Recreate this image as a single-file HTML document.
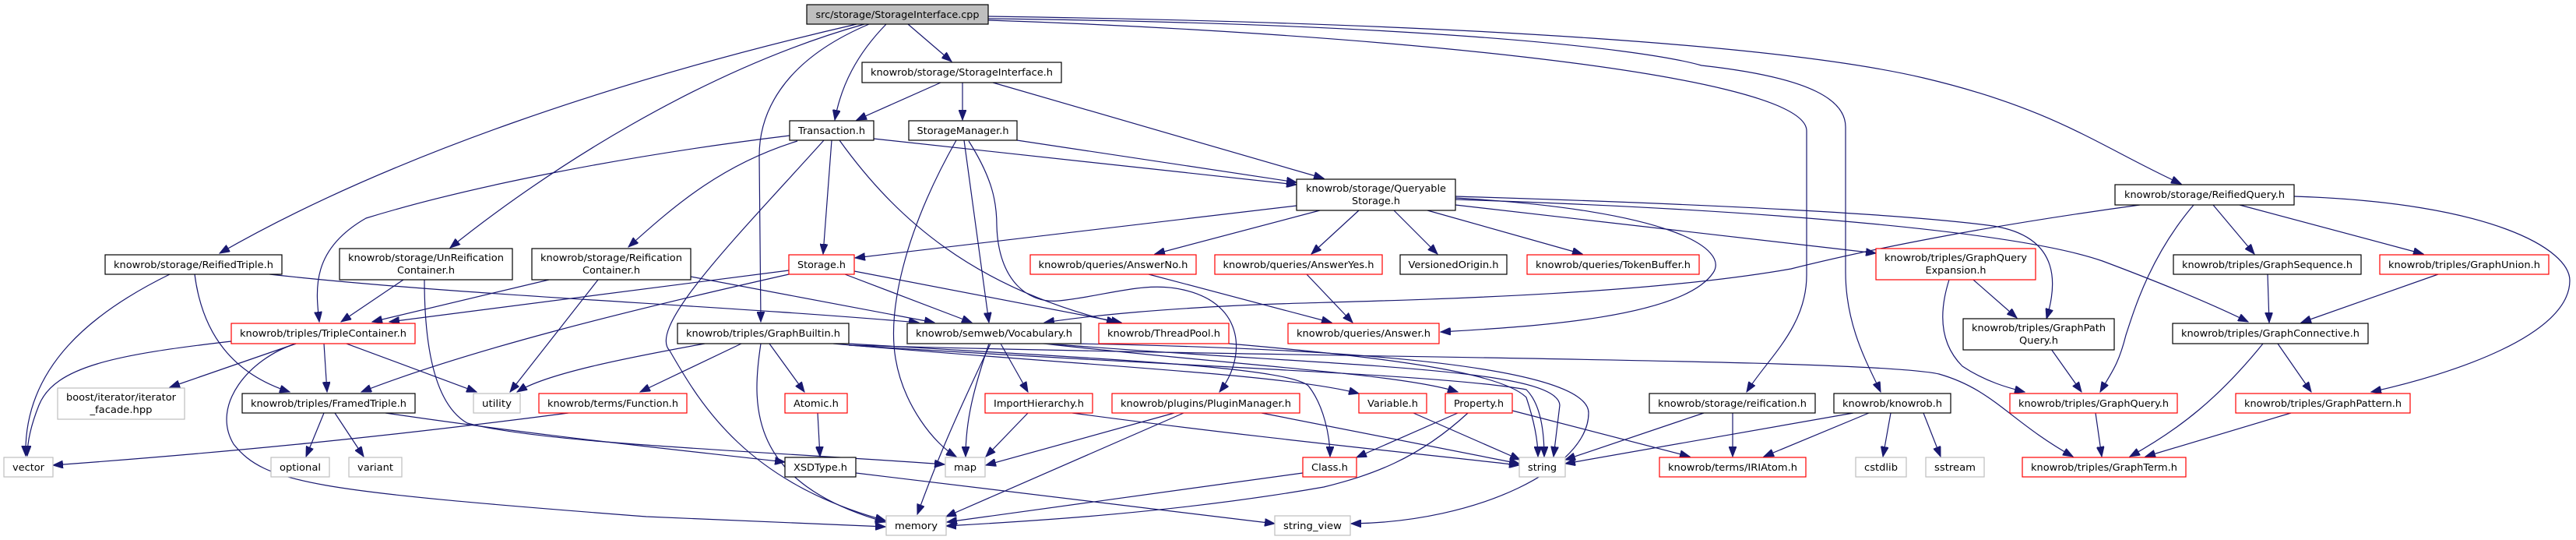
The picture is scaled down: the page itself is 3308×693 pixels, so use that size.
<!DOCTYPE html>
<html><head><meta charset="utf-8"><style>
html,body{margin:0;padding:0;background:#fff;}
svg{display:block;}
text{font-family:"DejaVu Sans","Liberation Sans",sans-serif;font-size:12px;fill:#000;}
.e{fill:none;stroke:#191970;stroke-width:1.2;marker-end:url(#a);}
.b{fill:#fff;stroke:#000;stroke-width:1.2;}
.r{fill:#fff;stroke:#ff0000;stroke-width:1.2;}
.g{fill:#fff;stroke:#bfbfbf;stroke-width:1.2;}
</style></head><body>
<svg width="3308" height="693" viewBox="0 0 3308 693" xmlns="http://www.w3.org/2000/svg">
<defs><marker id="a" markerUnits="userSpaceOnUse" markerWidth="14" markerHeight="10" refX="13" refY="5" orient="auto"><polygon points="0,0 13,5 0,10" fill="#191970" stroke="#191970"/></marker></defs>
<!-- edges -->
<path class="e" d="M1100 31 C800 100 500 200 282 325"/>
<path class="e" d="M1110 31 C900 90 700 220 578 318"/>
<path class="e" d="M1138 31 C1100 70 1080 110 1072 154"/>
<path class="e" d="M1166 31 L1222 79"/>
<path class="e" d="M1116 31 C1000 80 975 150 975 200 L977 413"/>
<path class="e" d="M1269 21 C1900 30 2300 60 2470 100 S2700 190 2801 236"/>
<path class="e" d="M1269 26 C1700 40 2320 90 2320 168 L2320 353 C2320 420 2270 460 2243 503"/>
<path class="e" d="M1269 24 C1800 30 2100 60 2185 84 C2330 100 2370 130 2370 163 L2370 349 C2370 420 2400 470 2415 503"/>
<path class="e" d="M1208 106 L1100 154"/>
<path class="e" d="M1236 106 L1236 154"/>
<path class="e" d="M1275 106 L1700 229"/>
<path class="e" d="M1014 174 C800 200 600 240 470 280 C400 320 405 370 410 413"/>
<path class="e" d="M1024 181 C930 210 870 260 807 317"/>
<path class="e" d="M1058 180 C950 300 830 420 860 450 C900 520 960 620 1137 668"/>
<path class="e" d="M1068 180 L1057 326"/>
<path class="e" d="M1078 180 C1150 280 1250 370 1434 414"/>
<path class="e" d="M1122 178 L1665 237"/>
<path class="e" d="M1228 180 C1160 300 1140 400 1150 460 C1160 520 1200 570 1228 586"/>
<path class="e" d="M1238 180 L1270 414"/>
<path class="e" d="M1244 181 C1275 230 1280 260 1280 290 C1282 360 1320 390 1360 386 C1420 380 1470 360 1520 372 C1600 390 1600 460 1566 503"/>
<path class="e" d="M1306 180 L1665 234"/>
<path class="e" d="M1665 264 L1098 331"/>
<path class="e" d="M1695 270 L1483 326"/>
<path class="e" d="M1745 270 L1684 326"/>
<path class="e" d="M1790 270 L1846 326"/>
<path class="e" d="M1833 270 L2032 326"/>
<path class="e" d="M1869 254 C2150 270 2220 320 2200 350 C2160 410 1950 420 1850 426"/>
<path class="e" d="M1869 263 L2409 325"/>
<path class="e" d="M1869 252 C2200 262 2450 275 2560 290 C2650 305 2640 370 2628 409"/>
<path class="e" d="M1869 256 C2300 270 2600 300 2700 335 C2780 365 2840 390 2887 413"/>
<path class="e" d="M2748 263 C2550 290 2400 320 2300 345 C2100 380 1800 385 1640 390 C1500 395 1400 405 1341 414"/>
<path class="e" d="M2817 263 C2760 330 2740 400 2730 430 C2720 470 2710 480 2697 503"/>
<path class="e" d="M2842 263 L2895 326"/>
<path class="e" d="M2876 263 L3112 326"/>
<path class="e" d="M2946 252 C3200 260 3300 320 3300 360 C3300 430 3150 480 3045 503"/>
<path class="e" d="M2534 359 L2590 408"/>
<path class="e" d="M2503 359 C2490 400 2490 440 2520 470 C2550 490 2580 498 2600 503"/>
<path class="e" d="M2634 448 L2673 503"/>
<path class="e" d="M2912 352 L2914 414"/>
<path class="e" d="M3131 352 L2955 414"/>
<path class="e" d="M2906 441 C2850 510 2800 550 2735 586"/>
<path class="e" d="M2925 441 L2968 503"/>
<path class="e" d="M2691 530 L2699 586"/>
<path class="e" d="M2942 530 L2755 586"/>
<path class="e" d="M1475 352 L1710 414"/>
<path class="e" d="M1678 352 L1737 414"/>
<path class="e" d="M1013 347 L500 413"/>
<path class="e" d="M1013 352 C800 400 600 450 464 503"/>
<path class="e" d="M1085 352 L1248 414"/>
<path class="e" d="M1097 348 L1440 414"/>
<path class="e" d="M218 352 C120 400 30 470 33 585"/>
<path class="e" d="M250 352 C260 430 300 480 372 503"/>
<path class="e" d="M346 352 C600 380 900 390 1180 414"/>
<path class="e" d="M518 359 L438 413"/>
<path class="e" d="M545 359 C545 450 560 520 600 543 C700 570 1000 580 1213 596"/>
<path class="e" d="M495 530 C700 560 850 575 1008 593"/>
<path class="e" d="M705 359 L478 413"/>
<path class="e" d="M768 359 L655 503"/>
<path class="e" d="M887 355 L1200 414"/>
<path class="e" d="M297 438 C150 455 70 470 50 520 C38 550 35 570 35 585"/>
<path class="e" d="M380 441 L218 497"/>
<path class="e" d="M416 441 L420 503"/>
<path class="e" d="M445 441 L612 503"/>
<path class="e" d="M380 441 C320 460 270 520 300 570 C340 620 400 630 830 663 L1137 676"/>
<path class="e" d="M416 530 L393 586"/>
<path class="e" d="M430 530 L467 586"/>
<path class="e" d="M905 441 C800 460 700 480 664 503"/>
<path class="e" d="M952 441 L822 503"/>
<path class="e" d="M977 441 C965 520 960 620 1137 670"/>
<path class="e" d="M988 441 L1033 503"/>
<path class="e" d="M1070 441 C1400 470 1650 480 1745 505"/>
<path class="e" d="M1090 441 C1400 460 1650 470 1680 495 C1700 520 1708 560 1708 586"/>
<path class="e" d="M1090 443 C1500 470 1850 480 1960 500 C1980 520 1983 560 1983 586"/>
<path class="e" d="M1090 443 C1700 460 2400 460 2490 480 C2560 500 2580 540 2662 586"/>
<path class="e" d="M1272 441 C1220 550 1200 600 1178 660"/>
<path class="e" d="M1270 441 C1250 500 1240 540 1240 586"/>
<path class="e" d="M1285 441 L1320 503"/>
<path class="e" d="M1340 441 C1600 470 1800 480 1872 503"/>
<path class="e" d="M1345 441 C1700 470 2000 470 2003 520 L1995 586"/>
<path class="e" d="M1380 441 C1900 450 2040 490 2040 530 C2040 600 1900 670 1735 672"/>
<path class="e" d="M1320 530 L1266 586"/>
<path class="e" d="M1377 530 C1600 560 1800 580 1951 597"/>
<path class="e" d="M1508 530 L1266 597"/>
<path class="e" d="M1520 530 L1215 663"/>
<path class="e" d="M1620 530 L1951 595"/>
<path class="e" d="M1578 441 C1800 460 1930 480 1960 510 C1970 540 1975 565 1975 586"/>
<path class="e" d="M1050 530 L1053 586"/>
<path class="e" d="M1099 607 L1637 672"/>
<path class="e" d="M1815 530 L1952 590"/>
<path class="e" d="M1872 530 L1742 587"/>
<path class="e" d="M1885 530 C1820 590 1760 610 1700 625 C1500 660 1300 670 1215 675"/>
<path class="e" d="M1942 527 L2170 586"/>
<path class="e" d="M1673 607 L1216 670"/>
<path class="e" d="M2188 530 L2010 590"/>
<path class="e" d="M2225 530 L2225 586"/>
<path class="e" d="M2380 530 L2010 595"/>
<path class="e" d="M2400 530 L2265 586"/>
<path class="e" d="M2428 530 L2418 586"/>
<path class="e" d="M2470 530 L2492 586"/>
<path class="e" d="M730 530 C500 560 300 580 68 597"/>
<!-- nodes -->
<rect x="1036" y="6" width="233" height="25" fill="#bfbfbf" stroke="#000" stroke-width="1.2"/><text x="1152.5" y="23" text-anchor="middle" textLength="210" lengthAdjust="spacingAndGlyphs">src/storage/StorageInterface.cpp</text>
<rect class="b" x="1107" y="80" width="256" height="26"/><text x="1235" y="97" text-anchor="middle" textLength="234" lengthAdjust="spacingAndGlyphs">knowrob/storage/StorageInterface.h</text>
<rect class="b" x="1014" y="155" width="108" height="25"/><text x="1068" y="172" text-anchor="middle" textLength="86" lengthAdjust="spacingAndGlyphs">Transaction.h</text>
<rect class="b" x="1167" y="155" width="139" height="25"/><text x="1236.5" y="172" text-anchor="middle" textLength="118" lengthAdjust="spacingAndGlyphs">StorageManager.h</text>
<rect class="b" x="1665" y="230" width="204" height="40"/><text x="1767" y="246" text-anchor="middle" textLength="180" lengthAdjust="spacingAndGlyphs">knowrob/storage/Queryable</text><text x="1767" y="262" text-anchor="middle" textLength="62" lengthAdjust="spacingAndGlyphs">Storage.h</text>
<rect class="b" x="2716" y="237" width="230" height="26"/><text x="2831" y="254" text-anchor="middle" textLength="206" lengthAdjust="spacingAndGlyphs">knowrob/storage/ReifiedQuery.h</text>
<rect class="b" x="135" y="327" width="227" height="25"/><text x="248.5" y="344" text-anchor="middle" textLength="205" lengthAdjust="spacingAndGlyphs">knowrob/storage/ReifiedTriple.h</text>
<rect class="b" x="436" y="319" width="222" height="40"/><text x="547" y="335" text-anchor="middle" textLength="200" lengthAdjust="spacingAndGlyphs">knowrob/storage/UnReification</text><text x="547" y="351" text-anchor="middle" textLength="74" lengthAdjust="spacingAndGlyphs">Container.h</text>
<rect class="b" x="683" y="319" width="204" height="40"/><text x="785" y="335" text-anchor="middle" textLength="182" lengthAdjust="spacingAndGlyphs">knowrob/storage/Reification</text><text x="785" y="351" text-anchor="middle" textLength="74" lengthAdjust="spacingAndGlyphs">Container.h</text>
<rect class="r" x="1013" y="327" width="84" height="25"/><text x="1055" y="344" text-anchor="middle" textLength="62" lengthAdjust="spacingAndGlyphs">Storage.h</text>
<rect class="r" x="1323" y="327" width="213" height="25"/><text x="1429.5" y="344" text-anchor="middle" textLength="192" lengthAdjust="spacingAndGlyphs">knowrob/queries/AnswerNo.h</text>
<rect class="r" x="1560" y="327" width="215" height="25"/><text x="1667.5" y="344" text-anchor="middle" textLength="194" lengthAdjust="spacingAndGlyphs">knowrob/queries/AnswerYes.h</text>
<rect class="b" x="1798" y="327" width="137" height="25"/><text x="1866.5" y="344" text-anchor="middle" textLength="116" lengthAdjust="spacingAndGlyphs">VersionedOrigin.h</text>
<rect class="r" x="1961" y="327" width="221" height="25"/><text x="2071.5" y="344" text-anchor="middle" textLength="199" lengthAdjust="spacingAndGlyphs">knowrob/queries/TokenBuffer.h</text>
<rect class="r" x="2409" y="319" width="205" height="40"/><text x="2511.5" y="335" text-anchor="middle" textLength="183" lengthAdjust="spacingAndGlyphs">knowrob/triples/GraphQuery</text><text x="2511.5" y="351" text-anchor="middle" textLength="78" lengthAdjust="spacingAndGlyphs">Expansion.h</text>
<rect class="b" x="2791" y="327" width="241" height="25"/><text x="2911.5" y="344" text-anchor="middle" textLength="219" lengthAdjust="spacingAndGlyphs">knowrob/triples/GraphSequence.h</text>
<rect class="r" x="3056" y="327" width="217" height="25"/><text x="3164.5" y="344" text-anchor="middle" textLength="195" lengthAdjust="spacingAndGlyphs">knowrob/triples/GraphUnion.h</text>
<rect class="r" x="297" y="415" width="236" height="26"/><text x="415" y="432" text-anchor="middle" textLength="214" lengthAdjust="spacingAndGlyphs">knowrob/triples/TripleContainer.h</text>
<rect class="b" x="870" y="415" width="220" height="26"/><text x="980" y="432" text-anchor="middle" textLength="198" lengthAdjust="spacingAndGlyphs">knowrob/triples/GraphBuiltin.h</text>
<rect x="1165" y="415" width="223" height="26" fill="#fff" stroke="#404040" stroke-width="1.6"/><text x="1276.5" y="432" text-anchor="middle" textLength="201" lengthAdjust="spacingAndGlyphs">knowrob/semweb/Vocabulary.h</text>
<rect class="r" x="1411" y="415" width="167" height="26"/><text x="1494.5" y="432" text-anchor="middle" textLength="145" lengthAdjust="spacingAndGlyphs">knowrob/ThreadPool.h</text>
<rect class="r" x="1654" y="415" width="194" height="26"/><text x="1751" y="432" text-anchor="middle" textLength="172" lengthAdjust="spacingAndGlyphs">knowrob/queries/Answer.h</text>
<rect class="b" x="2521" y="409" width="194" height="40"/><text x="2618" y="425" text-anchor="middle" textLength="172" lengthAdjust="spacingAndGlyphs">knowrob/triples/GraphPath</text><text x="2618" y="441" text-anchor="middle" textLength="50" lengthAdjust="spacingAndGlyphs">Query.h</text>
<rect class="b" x="2790" y="415" width="251" height="26"/><text x="2915.5" y="432" text-anchor="middle" textLength="229" lengthAdjust="spacingAndGlyphs">knowrob/triples/GraphConnective.h</text>
<rect class="g" x="74" y="498" width="163" height="40"/><text x="155.5" y="514" text-anchor="middle" textLength="141" lengthAdjust="spacingAndGlyphs">boost/iterator/iterator</text><text x="155.5" y="530" text-anchor="middle" textLength="80" lengthAdjust="spacingAndGlyphs">_facade.hpp</text>
<rect class="b" x="311" y="505" width="222" height="25"/><text x="422" y="522" text-anchor="middle" textLength="200" lengthAdjust="spacingAndGlyphs">knowrob/triples/FramedTriple.h</text>
<rect class="g" x="608" y="505" width="60" height="25"/><text x="638" y="522" text-anchor="middle" textLength="38" lengthAdjust="spacingAndGlyphs">utility</text>
<rect class="r" x="692" y="505" width="190" height="25"/><text x="787" y="522" text-anchor="middle" textLength="168" lengthAdjust="spacingAndGlyphs">knowrob/terms/Function.h</text>
<rect class="r" x="1008" y="505" width="80" height="25"/><text x="1048" y="522" text-anchor="middle" textLength="58" lengthAdjust="spacingAndGlyphs">Atomic.h</text>
<rect class="r" x="1265" y="505" width="138" height="25"/><text x="1334" y="522" text-anchor="middle" textLength="116" lengthAdjust="spacingAndGlyphs">ImportHierarchy.h</text>
<rect class="r" x="1428" y="505" width="241" height="25"/><text x="1548.5" y="522" text-anchor="middle" textLength="219" lengthAdjust="spacingAndGlyphs">knowrob/plugins/PluginManager.h</text>
<rect class="r" x="1745" y="505" width="87" height="25"/><text x="1788.5" y="522" text-anchor="middle" textLength="65" lengthAdjust="spacingAndGlyphs">Variable.h</text>
<rect class="r" x="1856" y="505" width="86" height="25"/><text x="1899" y="522" text-anchor="middle" textLength="64" lengthAdjust="spacingAndGlyphs">Property.h</text>
<rect class="b" x="2118" y="505" width="213" height="25"/><text x="2224.5" y="522" text-anchor="middle" textLength="191" lengthAdjust="spacingAndGlyphs">knowrob/storage/reification.h</text>
<rect class="b" x="2355" y="505" width="150" height="25"/><text x="2430" y="522" text-anchor="middle" textLength="128" lengthAdjust="spacingAndGlyphs">knowrob/knowrob.h</text>
<rect class="r" x="2581" y="505" width="215" height="25"/><text x="2688.5" y="522" text-anchor="middle" textLength="193" lengthAdjust="spacingAndGlyphs">knowrob/triples/GraphQuery.h</text>
<rect class="r" x="2871" y="505" width="224" height="25"/><text x="2983" y="522" text-anchor="middle" textLength="202" lengthAdjust="spacingAndGlyphs">knowrob/triples/GraphPattern.h</text>
<rect class="g" x="5" y="587" width="63" height="25"/><text x="36.5" y="604" text-anchor="middle" textLength="41" lengthAdjust="spacingAndGlyphs">vector</text>
<rect class="g" x="348" y="587" width="75" height="25"/><text x="385.5" y="604" text-anchor="middle" textLength="53" lengthAdjust="spacingAndGlyphs">optional</text>
<rect class="g" x="448" y="587" width="68" height="25"/><text x="482" y="604" text-anchor="middle" textLength="46" lengthAdjust="spacingAndGlyphs">variant</text>
<rect class="b" x="1008" y="587" width="91" height="25"/><text x="1053.5" y="604" text-anchor="middle" textLength="69" lengthAdjust="spacingAndGlyphs">XSDType.h</text>
<rect class="g" x="1214" y="587" width="51" height="25"/><text x="1239.5" y="604" text-anchor="middle" textLength="29" lengthAdjust="spacingAndGlyphs">map</text>
<rect class="r" x="1673" y="587" width="69" height="25"/><text x="1707.5" y="604" text-anchor="middle" textLength="47" lengthAdjust="spacingAndGlyphs">Class.h</text>
<rect class="g" x="1951" y="587" width="59" height="25"/><text x="1980.5" y="604" text-anchor="middle" textLength="37" lengthAdjust="spacingAndGlyphs">string</text>
<rect class="r" x="2131" y="587" width="188" height="25"/><text x="2225" y="604" text-anchor="middle" textLength="166" lengthAdjust="spacingAndGlyphs">knowrob/terms/IRIAtom.h</text>
<rect class="g" x="2383" y="587" width="65" height="25"/><text x="2415.5" y="604" text-anchor="middle" textLength="43" lengthAdjust="spacingAndGlyphs">cstdlib</text>
<rect class="g" x="2473" y="587" width="75" height="25"/><text x="2510.5" y="604" text-anchor="middle" textLength="53" lengthAdjust="spacingAndGlyphs">sstream</text>
<rect class="r" x="2597" y="587" width="210" height="25"/><text x="2702" y="604" text-anchor="middle" textLength="188" lengthAdjust="spacingAndGlyphs">knowrob/triples/GraphTerm.h</text>
<rect class="g" x="1138" y="662" width="77" height="25"/><text x="1176.5" y="679" text-anchor="middle" textLength="55" lengthAdjust="spacingAndGlyphs">memory</text>
<rect class="g" x="1637" y="662" width="97" height="25"/><text x="1685.5" y="679" text-anchor="middle" textLength="75" lengthAdjust="spacingAndGlyphs">string_view</text>
</svg>
</body></html>
